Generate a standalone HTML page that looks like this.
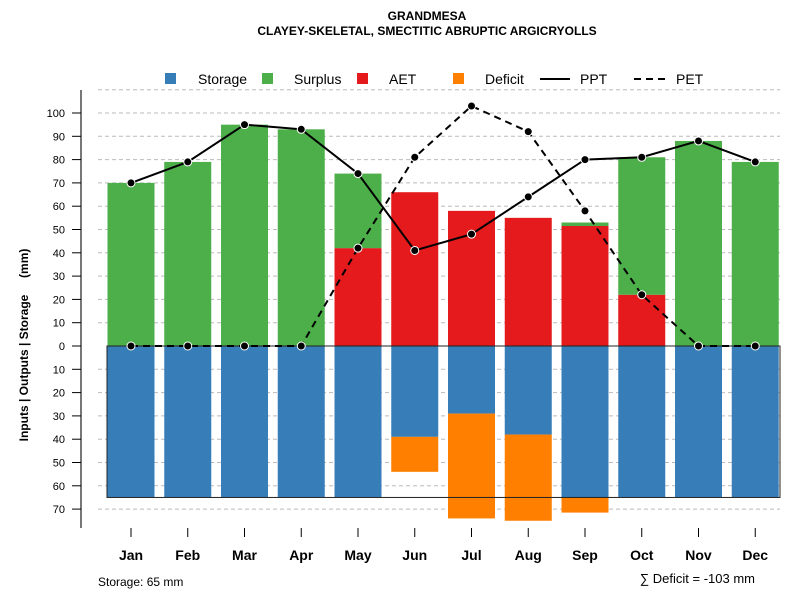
<!DOCTYPE html>
<html><head><meta charset="utf-8"><style>
body{margin:0;background:#fff}
svg{font-family:"Liberation Sans",sans-serif;display:block}
</style></head><body>
<svg id="c" width="800" height="600">
<text x="427" y="20" text-anchor="middle" font-size="12" font-weight="bold">GRANDMESA</text>
<text x="427" y="35" text-anchor="middle" font-size="12" font-weight="bold">CLAYEY-SKELETAL, SMECTITIC ABRUPTIC ARGICRYOLLS</text>
<text transform="translate(28,345) rotate(-90)" text-anchor="middle" font-size="12" font-weight="bold" style="white-space:pre">Inputs | Outputs | Storage     (mm)</text>
<text x="98" y="586" font-size="12">Storage: 65 mm</text>
<text x="755" y="583" text-anchor="end" font-size="13">∑ Deficit = -103 mm</text>
<g id="legend">
<rect x="165" y="73" width="11" height="11" fill="#377EB8"/>
<text x="198" y="84" font-size="14">Storage</text>
<rect x="262" y="73" width="11" height="11" fill="#4DAF4A"/>
<text x="294" y="84" font-size="14">Surplus</text>
<rect x="357" y="73" width="11" height="11" fill="#E41A1C"/>
<text x="389" y="84" font-size="14">AET</text>
<rect x="453" y="73" width="11" height="11" fill="#FF7F00"/>
<text x="485" y="84" font-size="14">Deficit</text>
<line x1="540" y1="79" x2="570" y2="79" stroke="#000" stroke-width="2"/>
<text x="580" y="84" font-size="14">PPT</text>
<line x1="634" y1="79" x2="666" y2="79" stroke="#000" stroke-width="2" stroke-dasharray="7,5"/>
<text x="676" y="84" font-size="14">PET</text>
</g>
</svg>
<script>
const months=["Jan","Feb","Mar","Apr","May","Jun","Jul","Aug","Sep","Oct","Nov","Dec"];
const ppt=[70,79,95,93,74,41,48,64,80,81,88,79];
const pet=[0,0,0,0,42,81,103,92,58,22,0,0];
const aet=[0,0,0,0,42,66,58,55,51.5,22,0,0];
const surplus=[70,79,95,93,32,0,0,0,1.5,59,88,79];
const storage=[65,65,65,65,65,39,29,38,65,65,65,65];
const deficit=[0,0,0,0,0,15,45,37,6.5,0,0,0];
const yTicks=[100,90,80,70,60,50,40,30,20,10,0,-10,-20,-30,-40,-50,-60,-70];
const storageCap=65;
const NS="http://www.w3.org/2000/svg";
const svg=document.getElementById('c');
const y=v=>346-v*2.33;
const x=i=>131+i*56.75;
const bw=47;
function mk(t,a,p){const e=document.createElementNS(NS,t);for(const k in a)e.setAttribute(k,a[k]);(p||svg).appendChild(e);return e;}
[110,...yTicks].forEach(v=>{if(v===0)return;
const g=mk('line',{x1:98,x2:780,y1:y(v),y2:y(v),stroke:'#bbb','stroke-dasharray':'4,3'});

});
const ax=mk('line',{x1:81,x2:81,y1:90,y2:528,stroke:'#777','stroke-width':2});


yTicks.forEach(v=>{
mk('line',{x1:72,x2:81,y1:y(v),y2:y(v),stroke:'#000'});
const t=mk('text',{x:65,y:y(v)+4,'text-anchor':'end','font-size':11});t.textContent=Math.abs(v);

});
months.forEach((m,i)=>{
const l=x(i)-bw/2;
const s=mk('rect',{x:l,y:y(0),width:bw,height:y(-storage[i])-y(0),fill:'#377EB8'});


if(deficit[i]>0){const d=mk('rect',{x:l,y:y(-storage[i]),width:bw,height:y(-storage[i]-deficit[i])-y(-storage[i]),fill:'#FF7F00'});

}
if(aet[i]>0){const a=mk('rect',{x:l,y:y(aet[i]),width:bw,height:y(0)-y(aet[i]),fill:'#E41A1C'});

}
if(surplus[i]>0){const g=mk('rect',{x:l,y:y(aet[i]+surplus[i]),width:bw,height:y(aet[i])-y(aet[i]+surplus[i]),fill:'#4DAF4A'});

}
mk('line',{x1:x(i),x2:x(i),y1:528,y2:537,stroke:'#000'});
const t=mk('text',{x:x(i),y:560,'text-anchor':'middle','font-size':14,'font-weight':'bold'});t.textContent=m;

});
const box=mk('rect',{x:107,y:y(0),width:673,height:y(-storageCap)-y(0),fill:'none',stroke:'#222','stroke-width':1});


function series(vals,dash,name){
const p=mk('polyline',{points:vals.map((v,i)=>x(i)+','+y(v)).join(' '),fill:'none',stroke:'#000','stroke-width':2,'stroke-dasharray':dash});


vals.forEach((v,i)=>{const c=mk('circle',{cx:x(i),cy:y(v),r:4,fill:'#000',stroke:'#fff','stroke-width':1});

});}
series(pet,'7,5','pet');
series(ppt,'none','ppt');
</script>
</body></html>
